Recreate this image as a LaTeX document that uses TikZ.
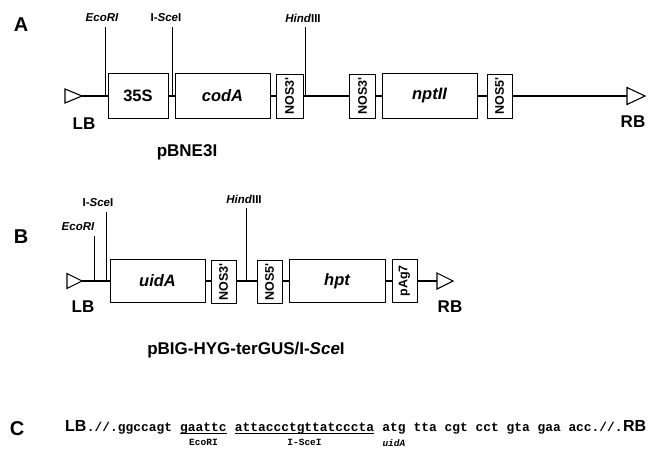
\documentclass[tikz,border=0pt]{standalone}
\usepackage{fontspec}
\newfontfamily\sansfont{Liberation Sans}
\newfontfamily\monofont{Liberation Mono}
\usetikzlibrary{positioning}

\tikzset{
	gene/.style={draw, line width=1pt, inner sep=0pt, minimum height=45pt,
		font=\sansfont\bfseries\fontsize{16.5}{17}\selectfont},
	term/.style={gene, font=\sansfont\bfseries\fontsize{12.5}{13}\selectfont},
	bb/.style={line width=2pt},
	bord/.style={line width=1.1pt, line join=miter},
	siteln/.style={line width=0.8pt},
	site/.style={inner sep=0pt, font=\sansfont\bfseries\fontsize{11.5}{12}\selectfont},
	tag/.style={inner sep=0pt, font=\sansfont\bfseries\fontsize{17}{17}\selectfont},
	panel/.style={inner sep=0pt, font=\sansfont\bfseries\fontsize{20}{20}\selectfont},
	seq/.style={inner sep=0pt, text depth=2pt, font=\monofont\bfseries\fontsize{12.9}{13}\selectfont},
	seqlb/.style={inner sep=0pt, font=\sansfont\bfseries\fontsize{16}{16}\selectfont},
	seqlab/.style={inner sep=0pt, font=\monofont\bfseries\fontsize{9.5}{10}\selectfont},
	uline/.style={line width=0.8pt}
}

\begin{document}
\begin{tikzpicture}[x=1pt, y=-1pt]
	\useasboundingbox (0,0) rectangle (648,451);
	
	% Parameters
	\def\yA{96}
	\def\yB{281}
	\def\chw{7.75pt} % width of one mono character
	
	% -----------------------------
	% A: pBNE3I
	% -----------------------------
	\node[panel] (pA) at (21,25) {A};
	
	% Border triangles
	\coordinate (lbA) at (82,\yA);
	\draw[bord] (lbA) -- ++(-17,-7) -- ++(0,14) -- cycle;
	\coordinate (rbA) at (627,\yA);
	\draw[bord] (rbA) -- ++(0,-8.5) -- ++(18,8.5) -- ++(-18,8.5) -- cycle;
	
	% Boxes
	\node[gene, minimum width=60pt] (s35) at (138,\yA) {35S};
	\node[gene, minimum width=95pt] (codA) at (222.5,\yA) {\itshape codA};
	\node[term, minimum width=27pt, minimum height=44pt] (nos3a) at (289.5,\yA) {\rotatebox{90}{NOS3'}};
	\node[term, minimum width=26pt, minimum height=44pt] (nos3b) at (362.5,\yA) {\rotatebox{90}{NOS3'}};
	\node[gene, minimum width=95pt] (nptII) at (429.5,\yA) {\itshape nptII};
	\node[term, minimum width=25pt, minimum height=44pt] (nos5a) at (499.5,\yA) {\rotatebox{90}{NOS5'}};
	
	% Backbone
	\draw[bb] (lbA) -- (s35);
	\draw[bb] (s35) -- (codA);
	\draw[bb] (codA) -- (nos3a);
	\draw[bb] (nos3a) -- (nos3b);
	\draw[bb] (nos3b) -- (nptII);
	\draw[bb] (nptII) -- (nos5a);
	\draw[bb] (nos5a) -- (rbA);
	
	% Restriction sites
	\node[site] (ecoAl) at (102,18) {\itshape EcoRI};
	\node[site] (sceAl) at (166,18) {I-\textit{Sce}I};
	\node[site] (hinAl) at (303,18) {\textit{Hind}III};
	\coordinate (ecoA) at (105,\yA);
	\coordinate (sceA) at (172,\yA);
	\coordinate (hinA) at (305,\yA);
	\draw[siteln] (ecoA) -- ([yshift=-5pt]ecoA |- ecoAl.south);
	\draw[siteln] (sceA) -- ([yshift=-5pt]sceA |- sceAl.south);
	\draw[siteln] (hinA) -- ([yshift=-5pt]hinA |- hinAl.south);
	
	\node[tag] (lbAl) at (84,124) {LB};
	\node[tag] (rbAl) at (633,122) {RB};
	\node[tag] (nameA) at (187,152) {pBNE3I};
	
	% -----------------------------
	% B: pBIG-HYG-terGUS/I-SceI
	% -----------------------------
	\node[panel] (pB) at (21,237) {B};
	
	% Border triangles
	\coordinate (lbB) at (82,\yB);
	\draw[bord] (lbB) -- ++(-15,-7.5) -- ++(0,15) -- cycle;
	\coordinate (rbB) at (437,\yB);
	\draw[bord] (rbB) -- ++(0,-8) -- ++(16,8) -- ++(-16,8) -- cycle;
	
	% Boxes
	\node[gene, minimum width=95pt, minimum height=43pt] (uidA) at (157.5,\yB) {\itshape uidA};
	\node[term, minimum width=25pt, minimum height=43pt] (nos3c) at (223.5,\yB+1) {\rotatebox{90}{NOS3'}};
	\node[term, minimum width=25pt, minimum height=43pt] (nos5b) at (269.5,\yB+1) {\rotatebox{90}{NOS5'}};
	\node[gene, minimum width=96pt, minimum height=43pt] (hpt) at (337,\yB) {\itshape hpt};
	\node[term, minimum width=25pt, minimum height=43pt] (pAg7) at (404.5,\yB) {\rotatebox{90}{pAg7}};
	
	% Backbone
	\draw[bb] (lbB) -- (uidA);
	\draw[bb] (uidA) -- (uidA -| nos3c.west);
	\draw[bb] (uidA -| nos3c.east) -- (uidA -| nos5b.west);
	\draw[bb] (hpt -| nos5b.east) -- (hpt);
	\draw[bb] (hpt) -- (pAg7);
	\draw[bb] (pAg7) -- (rbB);
	
	% Restriction sites
	\node[site] (ecoBl) at (78,227) {\itshape EcoRI};
	\node[site] (sceBl) at (98,203) {I-\textit{Sce}I};
	\node[site] (hinBl) at (244,199) {\textit{Hind}III};
	\coordinate (ecoB) at (94,\yB);
	\coordinate (sceB) at (106,\yB);
	\coordinate (hinB) at (246,\yB);
	\draw[siteln] (ecoB) -- ([yshift=-5pt]ecoB |- ecoBl.south);
	\draw[siteln] (sceB) -- ([yshift=-5pt]sceB |- sceBl.south);
	\draw[siteln] (hinB) -- ([yshift=-5pt]hinB |- hinBl.south);
	
	\node[tag] (lbBl) at (83,307) {LB};
	\node[tag] (rbBl) at (450,307) {RB};
	\node[tag] (nameB) at (246,350) {pBIG-HYG-terGUS/I-\textit{Sce}I};
	
	% -----------------------------
	% C: junction sequence
	% -----------------------------
	\node[panel] (pC) at (17,429) {C};
	
	\node[seqlb, anchor=base west] (lbC) at (65,431) {LB};
	\node[seq, anchor=base west] (sq1) at (lbC.base east) {.//.ggccagt};
	\node[seq, anchor=base west] (sqEco) at ([xshift=\chw]sq1.base east) {gaattc};
	\node[seq, anchor=base west] (sqSce) at ([xshift=\chw]sqEco.base east) {attaccctgttatcccta};
	\node[seq, anchor=base west] (sqAtg) at ([xshift=\chw]sqSce.base east) {atg};
	\node[seq, anchor=base west] (sq2) at ([xshift=\chw]sqAtg.base east) {tta\ cgt\ cct\ gta\ gaa\ acc.//.};
	\node[seqlb, anchor=base west] (rbC) at (sq2.base east) {RB};
	
	% Underlines
	\draw[uline] (sqEco.south west) -- (sqEco.south east);
	\draw[uline] (sqSce.south west) -- (sqSce.south east);
	
	\node[seqlab, below=6pt of sqEco] (ecoC) {EcoRI};
	\node[seqlab, below=6pt of sqSce] (sceC) {I-SceI};
	\node[seqlab, below=6pt of sqAtg] (uidC) {\itshape uidA};
	
\end{tikzpicture}
\end{document}
